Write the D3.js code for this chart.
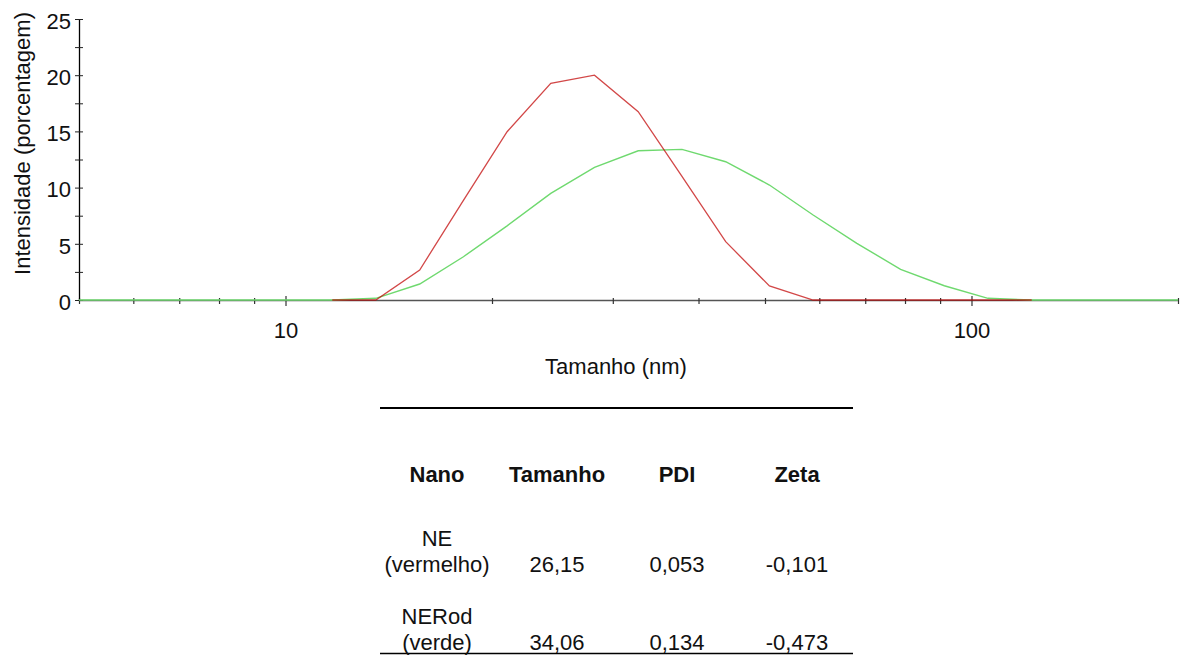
<!DOCTYPE html>
<html>
<head>
<meta charset="utf-8">
<script src="https://cdn.jsdelivr.net/npm/d3@7/dist/d3.min.js"></script>
<style>
  html, body { margin: 0; padding: 0; background: #fff; }
  svg { display: block; font-family: Arial, "Liberation Sans", sans-serif; }
</style>
</head>
<body>
<svg id="chart" width="1181" height="655"></svg>
<script>
// Size classes (nm) of the intensity distribution
const sizeBins = [4.849, 5.615, 6.503, 7.531, 8.721, 10.1, 11.7, 13.54, 15.69, 18.17,
  21.04, 24.36, 28.21, 32.67, 37.84, 43.82, 50.75, 58.77, 68.06, 78.82,
  91.28, 105.7, 122.4, 141.8, 164.2, 190.1, 220.2];

// NE (red): measured only from 11.7 nm to 122.4 nm
const neIntensity = [null, null, null, null, null, null, 0, 0, 2.67, 8.86,
  14.97, 19.28, 20.0, 16.75, 11.0, 5.19, 1.25, 0, 0, 0,
  0, 0, 0, null, null, null, null];

// NERod (green)
const neRodIntensity = [0, 0, 0, 0, 0, 0, 0, 0.15, 1.42, 3.85,
  6.6, 9.49, 11.8, 13.28, 13.4, 12.3, 10.23, 7.56, 5.04, 2.73,
  1.27, 0.15, 0, 0, 0, 0, 0];

const xDomain = [5, 200];
const yDomain = [0, 25];
const yTickValues = [0, 2.5, 5, 7.5, 10, 12.5, 15, 17.5, 20, 22.5, 25];
const xLabelValues = [10, 100];

// Summary table
const tableColumns = ["Nano", "Tamanho", "PDI", "Zeta"];
const tableNames = [["NE", "(vermelho)"], ["NERod", "(verde)"]];
const tableTamanho = ["26,15", "34,06"];
const tablePDI = ["0,053", "0,134"];
const tableZeta = ["-0,101", "-0,473"];

const fontSize = "22px";
const svg = d3.select("#chart");
const plot = { left: 79, right: 1178, top: 19, bottom: 300 };

const x = d3.scaleLog().domain(xDomain).range([plot.left, plot.right]);
const y = d3.scaleLinear().domain(yDomain).range([plot.bottom, plot.top]);

svg.append("defs").append("clipPath").attr("id", "plot-clip")
  .append("rect")
  .attr("x", plot.left).attr("y", plot.top - 5)
  .attr("width", plot.right - plot.left).attr("height", plot.bottom - plot.top + 10);

// X axis
const xAxis = d3.axisBottom(x)
  .tickValues(x.ticks())
  .tickFormat(d => xLabelValues.includes(d) ? d3.format("d")(d) : "")
  .tickSizeOuter(0);

const gx = svg.append("g")
  .attr("transform", `translate(0,${plot.bottom})`)
  .call(xAxis);
gx.select(".domain").attr("stroke", "#555").attr("stroke-width", 1.3);
gx.selectAll(".tick line")
  .attr("stroke", "#333")
  .attr("stroke-width", 1.2)
  .attr("y1", d => xLabelValues.includes(d) ? -4 : -2)
  .attr("y2", d => xLabelValues.includes(d) ? 6 : 4);
gx.selectAll(".tick text")
  .attr("y", 38).attr("dy", 0)
  .attr("fill", "#111")
  .style("font-size", fontSize);

// Y axis
const yAxis = d3.axisLeft(y)
  .tickValues(yTickValues)
  .tickFormat(d => d % 5 === 0 ? d3.format("d")(d) : "")
  .tickSizeOuter(0);

const gy = svg.append("g")
  .attr("transform", `translate(${plot.left},0)`)
  .call(yAxis);
gy.select(".domain").attr("stroke", "#000").attr("stroke-width", 1.3);
gy.selectAll(".tick line")
  .attr("stroke", "#222")
  .attr("x1", -4).attr("x2", 4);
gy.selectAll(".tick text")
  .attr("x", -8).attr("dy", "0.42em")
  .attr("fill", "#111")
  .style("font-size", fontSize);

// Axis titles
svg.append("text")
  .attr("x", 616).attr("y", 374)
  .attr("text-anchor", "middle")
  .attr("fill", "#111")
  .style("font-size", fontSize)
  .text("Tamanho (nm)");

svg.append("text")
  .attr("transform", `translate(30,${(plot.top + plot.bottom) / 2 - 16}) rotate(-90)`)
  .attr("text-anchor", "middle")
  .attr("fill", "#111")
  .style("font-size", fontSize)
  .text("Intensidade (porcentagem)");

// Distribution curves
const curves = svg.append("g").attr("clip-path", "url(#plot-clip)");

const line = vals => d3.line()
  .defined((d, i) => vals[i] !== null)
  .x(d => x(d))
  .y((d, i) => y(vals[i]));

curves.append("path")
  .datum(sizeBins)
  .attr("fill", "none")
  .attr("stroke", "#6fd96f")
  .attr("stroke-width", 1.4)
  .attr("d", line(neRodIntensity));

curves.append("path")
  .datum(sizeBins)
  .attr("fill", "none")
  .attr("stroke", "#c00000")
  .attr("stroke-opacity", 0.72)
  .attr("stroke-width", 1.3)
  .attr("d", line(neIntensity));

// Table
const tableLeft = 380, tableRight = 853;
const col = d3.scalePoint().domain(tableColumns).range([437, 797]);

svg.append("line")
  .attr("x1", tableLeft).attr("x2", tableRight)
  .attr("y1", 408).attr("y2", 408)
  .attr("stroke", "#000").attr("stroke-width", 2.2);

svg.append("line")
  .attr("x1", tableLeft).attr("x2", tableRight)
  .attr("y1", 653.5).attr("y2", 653.5)
  .attr("stroke", "#000").attr("stroke-width", 1.3);

const table = svg.append("g")
  .attr("text-anchor", "middle")
  .attr("fill", "#111")
  .style("font-size", fontSize);

table.selectAll("text.head")
  .data(tableColumns)
  .join("text")
  .attr("class", "head")
  .attr("x", d => col(d))
  .attr("y", 482)
  .style("font-weight", "bold")
  .text(d => d);

const rowBaselines = [572, 650];
tableNames.forEach((name, i) => {
  table.append("text")
    .attr("x", col("Nano")).attr("y", rowBaselines[i] - 26)
    .text(name[0]);
  table.append("text")
    .attr("x", col("Nano")).attr("y", rowBaselines[i])
    .text(name[1]);
  table.append("text")
    .attr("x", col("Tamanho")).attr("y", rowBaselines[i])
    .text(tableTamanho[i]);
  table.append("text")
    .attr("x", col("PDI")).attr("y", rowBaselines[i])
    .text(tablePDI[i]);
  table.append("text")
    .attr("x", col("Zeta")).attr("y", rowBaselines[i])
    .text(tableZeta[i]);
});
</script>
</body>
</html>
